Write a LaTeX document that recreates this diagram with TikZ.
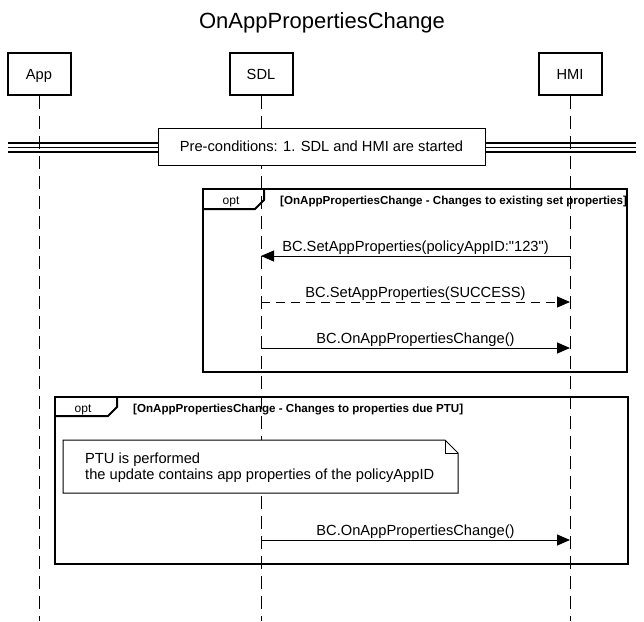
\documentclass[tikz,border=0pt]{standalone}
\usepackage{fontspec}
\setmainfont{Liberation Sans}[Ligatures=TeXOff]
\usetikzlibrary{arrows.meta}

\tikzset{
	head/.style={draw,line width=2pt,fill=white,minimum width=63pt,minimum height=42pt,inner sep=0pt,text height=10.5pt,text depth=0pt,font=\fontsize{14.67}{17}\selectfont},
	lifeline/.style={line width=1pt,dash pattern=on 13pt off 7pt},
	msg/.style={line width=1pt,-{Triangle[length=13pt,width=11pt]}},
	reply/.style={msg,dash pattern=on 9pt off 6pt},
	lbl/.style={anchor=base,inner sep=0pt,yshift=4.5pt,font=\fontsize{14.67}{17}\selectfont},
	frame/.style={line width=2pt},
	opttag/.style={anchor=base,inner sep=0pt,font=\fontsize{12}{14}\selectfont},
	guard/.style={anchor=base west,inner sep=0pt,font=\bfseries\fontsize{11.6}{14}\selectfont},
	notebox/.style={line width=1pt,fill=white},
}

\begin{document}
\begin{tikzpicture}[x=1pt,y=-1pt]
	\useasboundingbox (0,0) rectangle (644,621);
	\node[anchor=base,inner sep=0pt,font=\fontsize{22}{26}\selectfont] (title) at (322,28.5) {OnAppPropertiesChange};

	\coordinate (bottom) at (0,621);
	\node[head] (app) at (39,74) {App};
	\node[head] (sdl) at (261,74) {SDL};
	\node[head] (hmi) at (570,74) {HMI};
	\foreach \p in {app,sdl,hmi}
		\draw[lifeline] (\p.south) -- (\p.south |- bottom);

	% pre-conditions divider
	\draw[line width=1.2pt] (8,143) -- (636,143);
	\draw[line width=1pt] (8,147.5) -- (636,147.5);
	\draw[line width=1.2pt] (8,152) -- (636,152);
	\node[draw,line width=1pt,fill=white,minimum width=327pt,minimum height=37pt,inner sep=0pt,text height=10.5pt,text depth=0pt,font=\fontsize{14.67}{17}\selectfont] (pre) at (321.5,146.5) {Pre-conditions: 1. SDL and HMI are started};

	% opt 1
	\draw[frame] (203,189) rectangle (627,372);
	\draw[frame] (264,189) -- (264,200) -- (255,209) -- (203,209);
	\node[opttag] (opt1) at (231,204) {opt};
	\node[guard] (guard1) at (280,204.5) {[OnAppPropertiesChange - Changes to existing set properties]};

	\coordinate (hmi1) at (570,256);
	\coordinate (sdl1) at (261,256);
	\coordinate (sdl2) at (261,302);
	\coordinate (hmi2) at (570,302);
	\coordinate (sdl3) at (261,348);
	\coordinate (hmi3) at (570,348);
	\draw[msg] (hmi1) -- node[lbl] {BC.SetAppProperties(policyAppID:"123")} (sdl1);
	\draw[reply] (sdl2) -- node[lbl] {BC.SetAppProperties(SUCCESS)} (hmi2);
	\draw[msg] (sdl3) -- node[lbl] {BC.OnAppPropertiesChange()} (hmi3);

	% opt 2
	\draw[frame] (55,397) rectangle (628,564);
	\draw[frame] (117,397) -- (117,407) -- (108,416) -- (55,416);
	\node[opttag] (opt2) at (83,412) {opt};
	\node[guard] (guard2) at (133,412.5) {[OnAppPropertiesChange - Changes to properties due PTU]};

	\draw[notebox] (63,440) -- (445,440) -- (458,453) -- (458,493) -- (63,493) -- cycle;
	\draw[line width=1pt] (445,440) -- (445,453) -- (458,453);
	\node[anchor=north west,inner sep=0pt,align=left,font=\fontsize{14.67}{16}\selectfont] (ptu) at (85,452.5) {PTU is performed\\the update contains app properties of the policyAppID};

	\coordinate (sdl4) at (261,540);
	\coordinate (hmi4) at (570,540);
	\draw[msg] (sdl4) -- node[lbl] {BC.OnAppPropertiesChange()} (hmi4);
\end{tikzpicture}
\end{document}
